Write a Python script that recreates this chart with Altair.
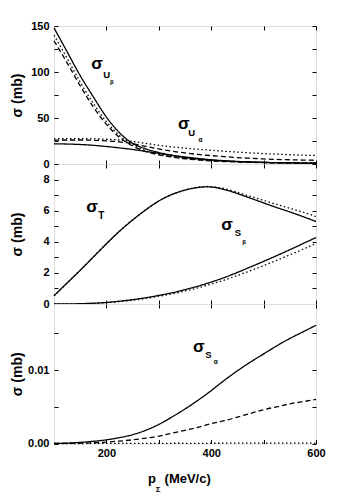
import altair as alt
import pandas as pd

FONT = "Liberation Sans"

# momentum grid (MeV/c)
P = [100, 125, 150, 175, 200, 225, 250, 275, 300, 325, 350,
     375, 400, 425, 450, 475, 500, 525, 550, 575, 600]

# ---- panel 1: sigma_U (mb)
U_beta_solid = [148, 122, 96, 73, 51, 34, 22.5, 16.5, 12.5, 9.5, 7.2,
                5.5, 4.2, 3.3, 2.6, 2.1, 1.7, 1.4, 1.2, 1.0, 0.9]
U_beta_dashed = [134, 110, 85, 62, 43, 29, 19.5, 13.5, 10, 7.5, 5.7,
                 4.4, 3.4, 2.7, 2.2, 1.8, 1.5, 1.3, 1.1, 1.0, 0.9]
U_beta_dotted = [140, 115, 89, 66, 46, 31, 21, 14.5, 10.8, 8, 6.1,
                 4.7, 3.7, 3.0, 2.4, 2.0, 1.7, 1.5, 1.3, 1.2, 1.1]
U_alpha_solid = [22, 21.7, 21.2, 20.3, 19, 17.5, 15.8, 13.7, 11.5, 9.4, 7.6,
                 6, 4.6, 3.6, 2.8, 2.2, 1.8, 1.4, 1.2, 1.0, 0.9]
U_alpha_dashed = [26, 26.1, 26.1, 25.8, 25.2, 24, 22, 19.2, 16.4, 14, 12,
                  10.4, 9.1, 8, 7, 6.2, 5.5, 5, 4.6, 4.3, 4.0]
U_alpha_dotted = [27.4, 27.5, 27.5, 27.3, 26.9, 26.1, 24.6, 22.4, 20.3, 18.6, 17.2,
                  16, 14.9, 13.9, 12.9, 12.1, 11.3, 10.7, 10.1, 9.6, 9.2]

# ---- panel 2: sigma_T and sigma_S_beta (mb)
T_solid = [0.53, 1.35, 2.17, 3.02, 3.87, 4.68, 5.4, 6.05, 6.62, 7.04, 7.32,
           7.49, 7.52, 7.36, 7.1, 6.8, 6.5, 6.2, 5.92, 5.62, 5.3]
T_dotted = [0.53, 1.35, 2.17, 3.02, 3.87, 4.68, 5.4, 6.05, 6.62, 7.04, 7.33,
            7.51, 7.55, 7.42, 7.18, 6.92, 6.66, 6.4, 6.15, 5.9, 5.62]
Sb_solid = [0.0, 0.005, 0.02, 0.05, 0.1, 0.18, 0.28, 0.4, 0.55, 0.72, 0.92,
            1.15, 1.41, 1.7, 2.03, 2.38, 2.74, 3.11, 3.49, 3.88, 4.27]
Sb_dotted = [0.0, 0.004, 0.015, 0.04, 0.085, 0.15, 0.24, 0.36, 0.5, 0.65, 0.83,
             1.04, 1.28, 1.54, 1.83, 2.14, 2.47, 2.81, 3.16, 3.52, 3.89]

# ---- panel 3: sigma_S_alpha (mb)
Sa_solid = [0.0, 0.00005, 0.00015, 0.0003, 0.0005, 0.0008, 0.0012, 0.0018, 0.0026,
            0.0036, 0.0047, 0.0059, 0.0072, 0.0086, 0.0099, 0.0111, 0.0122, 0.0133,
            0.0143, 0.0152, 0.0161]
Sa_dashed = [0.0, 0.00001, 0.00004, 0.0001, 0.0002, 0.00033, 0.0005, 0.00072,
             0.001, 0.0014, 0.0018, 0.0022, 0.0027, 0.0031, 0.0036, 0.0041,
             0.0046, 0.005, 0.0054, 0.0057, 0.006]
Sa_dotted = [0.0, 0.0, 0.0, 0.00001, 0.00001, 0.00001, 0.00002, 0.00002, 0.00002,
             0.00003, 0.00003, 0.00003, 0.00003, 0.00004, 0.00004, 0.00004,
             0.00004, 0.00005, 0.00005, 0.00005, 0.00005]

# ---- annotation texts: (x, y, text, fontsize)
T1 = [(171, 102.9, "σ", 17), (194, 93.8, "U", 9.5), (207, 87.0, "β", 6),
      (336.6, 38.0, "σ", 17), (356, 29.9, "U", 9.5), (376, 23.9, "α", 6.5)]
T2 = [(161.6, 5.91, "σ", 17), (184.5, 5.44, "T", 10),
      (419.3, 4.73, "σ", 17), (445, 4.34, "S", 9.5), (459.4, 3.86, "β", 6)]
T3 = [(365.3, 0.01252, "σ", 17), (388.7, 0.01158, "S", 9.5), (405, 0.01089, "α", 6.5),
      (279.4, -0.00534, "p", 13), (294.3, -0.00657, "Σ", 8),
      (311, -0.00541, "(MeV/c)", 13)]

X_TICKS = [200, 300, 400, 500, 600]

STYLE_DOMAIN = ["solid", "dashed", "dotted"]
STYLE_RANGE = [[1, 0], [5, 3], [1.5, 2.5]]


def panel(series, ydom, yticks, ylabstep, yfmt, h, texts, xlabels, interp):
    rows = []
    for name, style, vals in series:
        for xv, yv in zip(P, vals):
            rows.append(dict(x=xv, y=yv, series=name, style=style))
    df = pd.DataFrame(rows)
    tdf = pd.DataFrame(texts, columns=["x", "y", "t", "s"])

    xs = alt.Scale(domain=[100, 600], nice=False, zero=False)
    ys = alt.Scale(domain=ydom, nice=False, zero=False)
    common = dict(domain=False, grid=False, offset=-4, tickSize=4,
                  tickColor="black", tickWidth=1, labelFont=FONT,
                  labelFontWeight="bold", labelFontSize=11,
                  labelColor="black", labelFlush=False)
    xb = alt.Axis(orient="bottom", values=X_TICKS, labels=xlabels,
                  labelExpr="datum.value % 200 === 0 ? datum.label : ''",
                  labelPadding=4, title=None, **common)
    xt = alt.Axis(orient="top", values=X_TICKS, labels=False, title=None, **common)
    yl = alt.Axis(orient="left", values=yticks, format=yfmt,
                  labelExpr=f"abs(datum.value / {ylabstep} - round(datum.value / {ylabstep})) < 0.001 ? datum.label : ''",
                  labelPadding=5, title="σ (mb)", titleFont=FONT,
                  titleFontSize=14, titleFontWeight="bold", titleColor="black",
                  titleX=-34, **common)
    yr = alt.Axis(orient="right", values=yticks, labels=False, title=None, **common)

    lines = alt.Chart(df).mark_line(color="black", strokeWidth=1.3,
                                    interpolate=interp).encode(
        x=alt.X("x:Q", scale=xs, axis=xb),
        y=alt.Y("y:Q", scale=ys, axis=yl),
        detail="series:N",
        strokeDash=alt.StrokeDash("style:N", legend=None,
                                  scale=alt.Scale(domain=STYLE_DOMAIN, range=STYLE_RANGE)),
    )
    mirror = alt.Chart(df).mark_line(opacity=0).encode(
        x=alt.X("x:Q", scale=xs, axis=xt),
        y=alt.Y("y:Q", scale=ys, axis=yr),
        detail="series:N",
    )
    labels = alt.Chart(tdf).mark_text(align="left", baseline="alphabetic",
                                      font=FONT, fontWeight="bold",
                                      color="black").encode(
        x=alt.X("x:Q", scale=xs, axis=None),
        y=alt.Y("y:Q", scale=ys, axis=None),
        text="t:N",
        size=alt.Size("s:Q", scale=None),
    )
    return alt.layer(lines, mirror, labels).resolve_axis(
        x="independent", y="independent").properties(width=262, height=h)


p1 = panel([("Ub_s", "solid", U_beta_solid), ("Ub_d", "dashed", U_beta_dashed),
            ("Ub_o", "dotted", U_beta_dotted), ("Ua_s", "solid", U_alpha_solid),
            ("Ua_d", "dashed", U_alpha_dashed), ("Ua_o", "dotted", U_alpha_dotted)],
           [0, 150], [0, 25, 50, 75, 100, 125, 150], 50, "d", 138, T1, False,
           "monotone")
p2 = panel([("T_s", "solid", T_solid), ("T_o", "dotted", T_dotted),
            ("Sb_s", "solid", Sb_solid), ("Sb_o", "dotted", Sb_dotted)],
           [0, 9], [0, 1, 2, 3, 4, 5, 6, 7, 8, 9], 2, "d", 140, T2, False,
           "natural")
p3 = panel([("Sa_s", "solid", Sa_solid), ("Sa_d", "dashed", Sa_dashed),
            ("Sa_o", "dotted", Sa_dotted)],
           [0, 0.019], [0, 0.005, 0.01, 0.015], 0.01, ".2f", 139.5, T3, True,
           "natural")

chart = alt.vconcat(p1, p2, p3, spacing=0, bounds="flush").properties(
    padding={"left": 1, "top": 11, "right": 5, "bottom": 0}
).configure_view(stroke="black", strokeWidth=1.2).configure(background="white")

chart.save("out.html", embed_options={"renderer": "svg", "actions": False})
